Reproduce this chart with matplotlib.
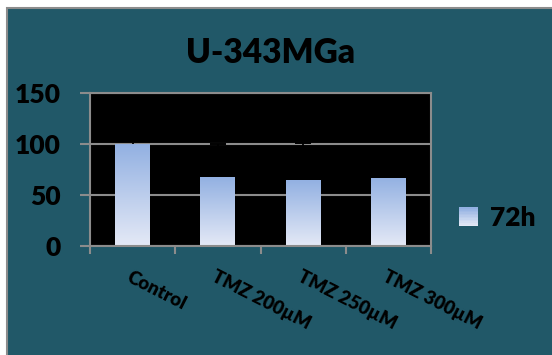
import matplotlib
matplotlib.use("Agg")
import matplotlib.pyplot as plt
import numpy as np
from matplotlib.colors import LinearSegmentedColormap
from matplotlib.legend_handler import HandlerBase
from matplotlib.patches import Patch, Rectangle
from matplotlib.transforms import blended_transform_factory

plt.rcParams["font.family"] = ["Lato", "DejaVu Sans"]
plt.rcParams["font.weight"] = "heavy"
W = "heavy"

categories = ["Control", "TMZ 200µM", "TMZ 250µM", "TMZ 300µM"]
values = [100, 67.6, 64.7, 66.7]
err_up = [1.0, 32.5, 36.5, 0.0]
series_name = "72h"
title = "U-343MGa"

TEAL = "#215868"
GRAY = "#8c8c8c"
TOP_C = "#93B1E2"
BOT_C = "#E4E9F6"
grad = LinearSegmentedColormap.from_list("g", [BOT_C, TOP_C])


class GradHandler(HandlerBase):
    def create_artists(self, legend, orig, xd, yd, w, h, fontsize, trans):
        n = 12
        arts = []
        side = 13.5
        x0 = xd
        y0 = yd + h / 2 - side / 2
        for i in range(n):
            r = Rectangle((x0, y0 + side * i / n), side, side / n + 0.3,
                          facecolor=grad(i / (n - 1)), edgecolor="none",
                          transform=trans)
            arts.append(r)
        return arts


fig = plt.figure(figsize=(5.52, 3.55), dpi=100)
fig.patch.set_facecolor("white")
fig.patches.append(Rectangle((7 / 552, -0.01), 1.0, (355 - 8) / 355 + 0.01,
                             transform=fig.transFigure, facecolor=TEAL,
                             edgecolor=GRAY, lw=1.5, zorder=-5))

ax = fig.add_axes([90 / 552, (355 - 246) / 355, 341 / 552, 153 / 355])
ax.set_zorder(2)
ax.set_facecolor("black")
x = np.arange(len(categories))
bars = ax.bar(x, values, width=0.41, color="none", zorder=2)
for b in bars:
    bx, by = b.get_x(), b.get_y()
    bw, bh = b.get_width(), b.get_height()
    im = ax.imshow(np.linspace(0, 1, 100).reshape(-1, 1), cmap=grad,
                   origin="lower", aspect="auto",
                   extent=[bx, bx + bw, by, by + bh], zorder=2)
    im.set_clip_path(b)

# upper-only error bars: stem plus a cap at the top end
tops = np.array(values) + np.array(err_up)
ax.errorbar(x, values, yerr=[np.zeros(len(values)), err_up], fmt="none",
            ecolor="black", elinewidth=1.3, capsize=0, zorder=4)
ax.plot(x[1:3], tops[1:3], ls="none", marker="_", ms=12, mew=1.4,
        color="black", zorder=4)

ax.set_xlim(-0.5, len(categories) - 0.5)
ax.set_ylim(0, 150)
ax.set_yticks([0, 50, 100, 150])
ax.yaxis.grid(True, color=GRAY, lw=1.5, zorder=1)
ax.set_axisbelow(True)
ax.set_xticks(np.arange(-0.5, len(categories), 1.0))
ax.set_xticklabels([])
ax.tick_params(axis="x", length=6, width=1.5, color=GRAY, direction="out")
ax.tick_params(axis="y", length=7, width=1.5, color=GRAY, direction="out",
               labelsize=19, labelcolor="black", pad=14)
for t in ax.get_yticklabels():
    t.set_fontweight(W)
for s in ax.spines.values():
    s.set_color(GRAY)
    s.set_linewidth(1.5)

trans = blended_transform_factory(ax.transData, ax.transAxes)
for i, c in enumerate(categories):
    ax.text(i - 0.01, -0.145, c, transform=trans, rotation=-27,
            rotation_mode="anchor", ha="left", va="top", fontsize=13.5,
            fontweight=W, color="black")

fig.text(0.49, 0.85, title, ha="center", va="center", fontsize=24,
         fontweight=W, color="black")

fig.legend([Patch()], [series_name], handler_map={Patch: GradHandler()},
           loc="center left", bbox_to_anchor=(459 / 552, (355 - 218) / 355),
           frameon=False, prop={"size": 19, "weight": W},
           borderaxespad=0, borderpad=0,
           handlelength=0.72, handletextpad=0.45)

fig.savefig("out.png", dpi=100, facecolor=fig.get_facecolor())
